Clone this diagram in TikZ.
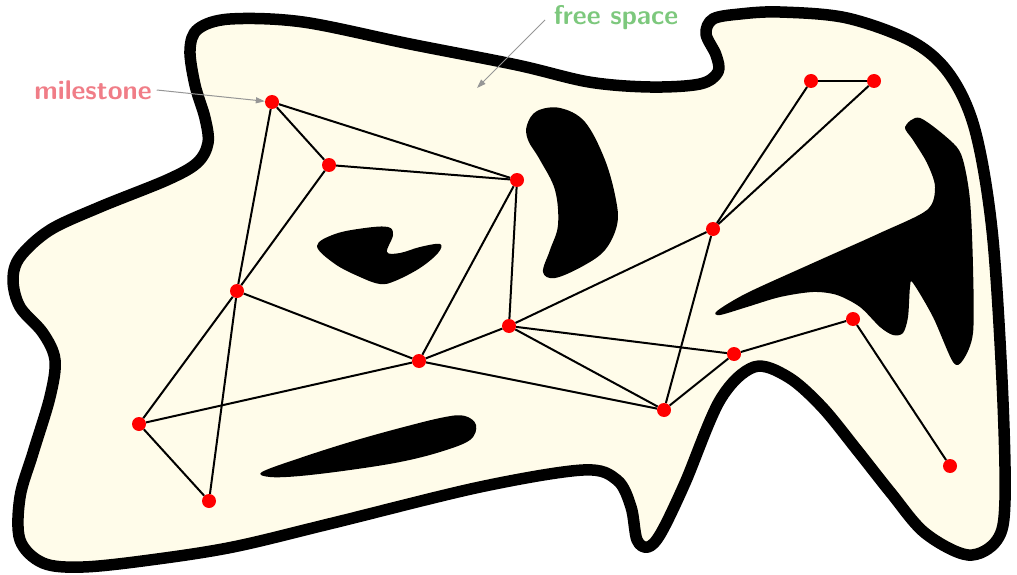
\documentclass[tikz,border=0pt]{standalone}
\usetikzlibrary{arrows.meta}
\definecolor{freefill}{RGB}{255,252,234}
\definecolor{msred}{RGB}{240,125,135}
\definecolor{fsgreen}{RGB}{125,200,125}
\definecolor{arrgray}{RGB}{150,150,150}
\tikzset{
  mile/.style={circle,fill=red,inner sep=0pt,minimum size=14pt},
  edge/.style={line width=2pt},
  obst/.style={fill=black},
  border/.style={line width=11.5pt, fill=freefill, line join=round},
  lbl/.style={font=\fontsize{27}{32}\selectfont\sffamily\bfseries, inner sep=5pt},
  pointer/.style={draw=arrgray, line width=1pt, -{Triangle[length=9pt,width=6pt]}}
}
\begin{document}
\begin{tikzpicture}[x=1pt,y=-1pt]
\useasboundingbox (0,0) rectangle (1017,575);
% free space
\draw[border] plot[smooth cycle, tension=0.55] coordinates {
 (190,50) (198,29) (230,19) (303,22) (410,44) (517,65) (589,82) (650,87) (700,84)
 (718,72) (716,55) (706,34) (713,19) (740,14) (780,12) (847,18) (913,42) (950,75)
 (975,130) (992,230) (1002,380) (1005,500) (997,540) (968,555) (925,533) (891,493)
 (857,450) (822,407) (788,377) (754,367) (720,400) (685,483) (661,533) (648,547)
 (637,540) (631,507) (617,480) (583,470) (480,487) (333,523) (233,547) (150,560)
 (83,567) (43,563) (20,540) (20,497) (33,453) (50,397) (55,360) (43,333) (20,307)
 (13,280) (20,257) (50,230) (100,207) (167,180) (197,163) (208,143) (205,118) (195,85)};
% obstacles
\fill[obst] plot[smooth cycle, tension=0.6] coordinates {
 (317,246) (335,234) (365,228) (388,227) (393,235) (387,252) (400,253) (420,247)
 (440,244) (438,253) (420,268) (395,281) (380,284) (360,277) (335,264)};
\fill[obst] plot[smooth cycle, tension=0.6] coordinates {
 (527,125) (537,111) (560,108) (585,122) (605,160) (616,200) (617,225) (605,250)
 (583,266) (555,278) (543,272) (550,250) (558,225) (555,190) (540,160) (528,140)};
\fill[obst] plot[smooth cycle, tension=0.6] coordinates {
 (262,472) (300,458) (350,442) (400,428) (445,417) (465,416) (476,425) (470,440)
 (440,452) (400,462) (350,470) (300,476) (270,477)};
\fill[obst] plot[smooth cycle, tension=0.5] coordinates {
 (905,127) (920,118) (953,143) (963,160) (970,200) (973,267) (973,333) (963,360)
 (953,362) (933,317) (913,283) (910,287) (908,317) (903,333) (893,335) (880,327)
 (860,307) (837,295) (813,292) (780,297) (747,307) (720,315) (717,311) (747,293)
 (813,263) (880,233) (927,210) (935,187) (927,163) (913,140)};
% milestones
\node[mile] (A) at (272,102) {};
\node[mile] (B) at (329,165) {};
\node[mile] (C) at (517,180) {};
\node[mile] (D) at (237,291) {};
\node[mile] (E) at (419,361) {};
\node[mile] (F) at (509,326) {};
\node[mile] (G) at (139,424) {};
\node[mile] (H) at (209,501) {};
\node[mile] (I) at (713,229) {};
\node[mile] (J) at (811,81) {};
\node[mile] (K) at (874,81) {};
\node[mile] (L) at (664,410) {};
\node[mile] (M) at (734,354) {};
\node[mile] (N) at (853,319) {};
\node[mile] (O) at (950,466) {};
% roadmap edges
\draw[edge] (A) -- (B);
\draw[edge] (A) -- (C);
\draw[edge] (A) -- (D);
\draw[edge] (B) -- (C);
\draw[edge] (B) -- (D);
\draw[edge] (D) -- (H);
\draw[edge] (D) -- (G);
\draw[edge] (D) -- (E);
\draw[edge] (G) -- (E);
\draw[edge] (G) -- (H);
\draw[edge] (C) -- (E);
\draw[edge] (C) -- (F);
\draw[edge] (E) -- (F);
\draw[edge] (F) -- (I);
\draw[edge] (E) -- (L);
\draw[edge] (F) -- (L);
\draw[edge] (F) -- (M);
\draw[edge] (L) -- (M);
\draw[edge] (L) -- (I);
\draw[edge] (I) -- (J);
\draw[edge] (I) -- (K);
\draw[edge] (J) -- (K);
\draw[edge] (M) -- (N);
\draw[edge] (N) -- (O);
% labels
\node[lbl, text=msred] (ms) at (93,90) {milestone};
\node[lbl, text=fsgreen] (fs) at (616,18) {free space};
\coordinate (fsTip) at (477,88);
\coordinate (fsStart) at (545,20);
\draw[pointer] (ms.east) -- (A);
\draw[pointer] (fsStart) -- (fsTip);
\end{tikzpicture}
\end{document}
